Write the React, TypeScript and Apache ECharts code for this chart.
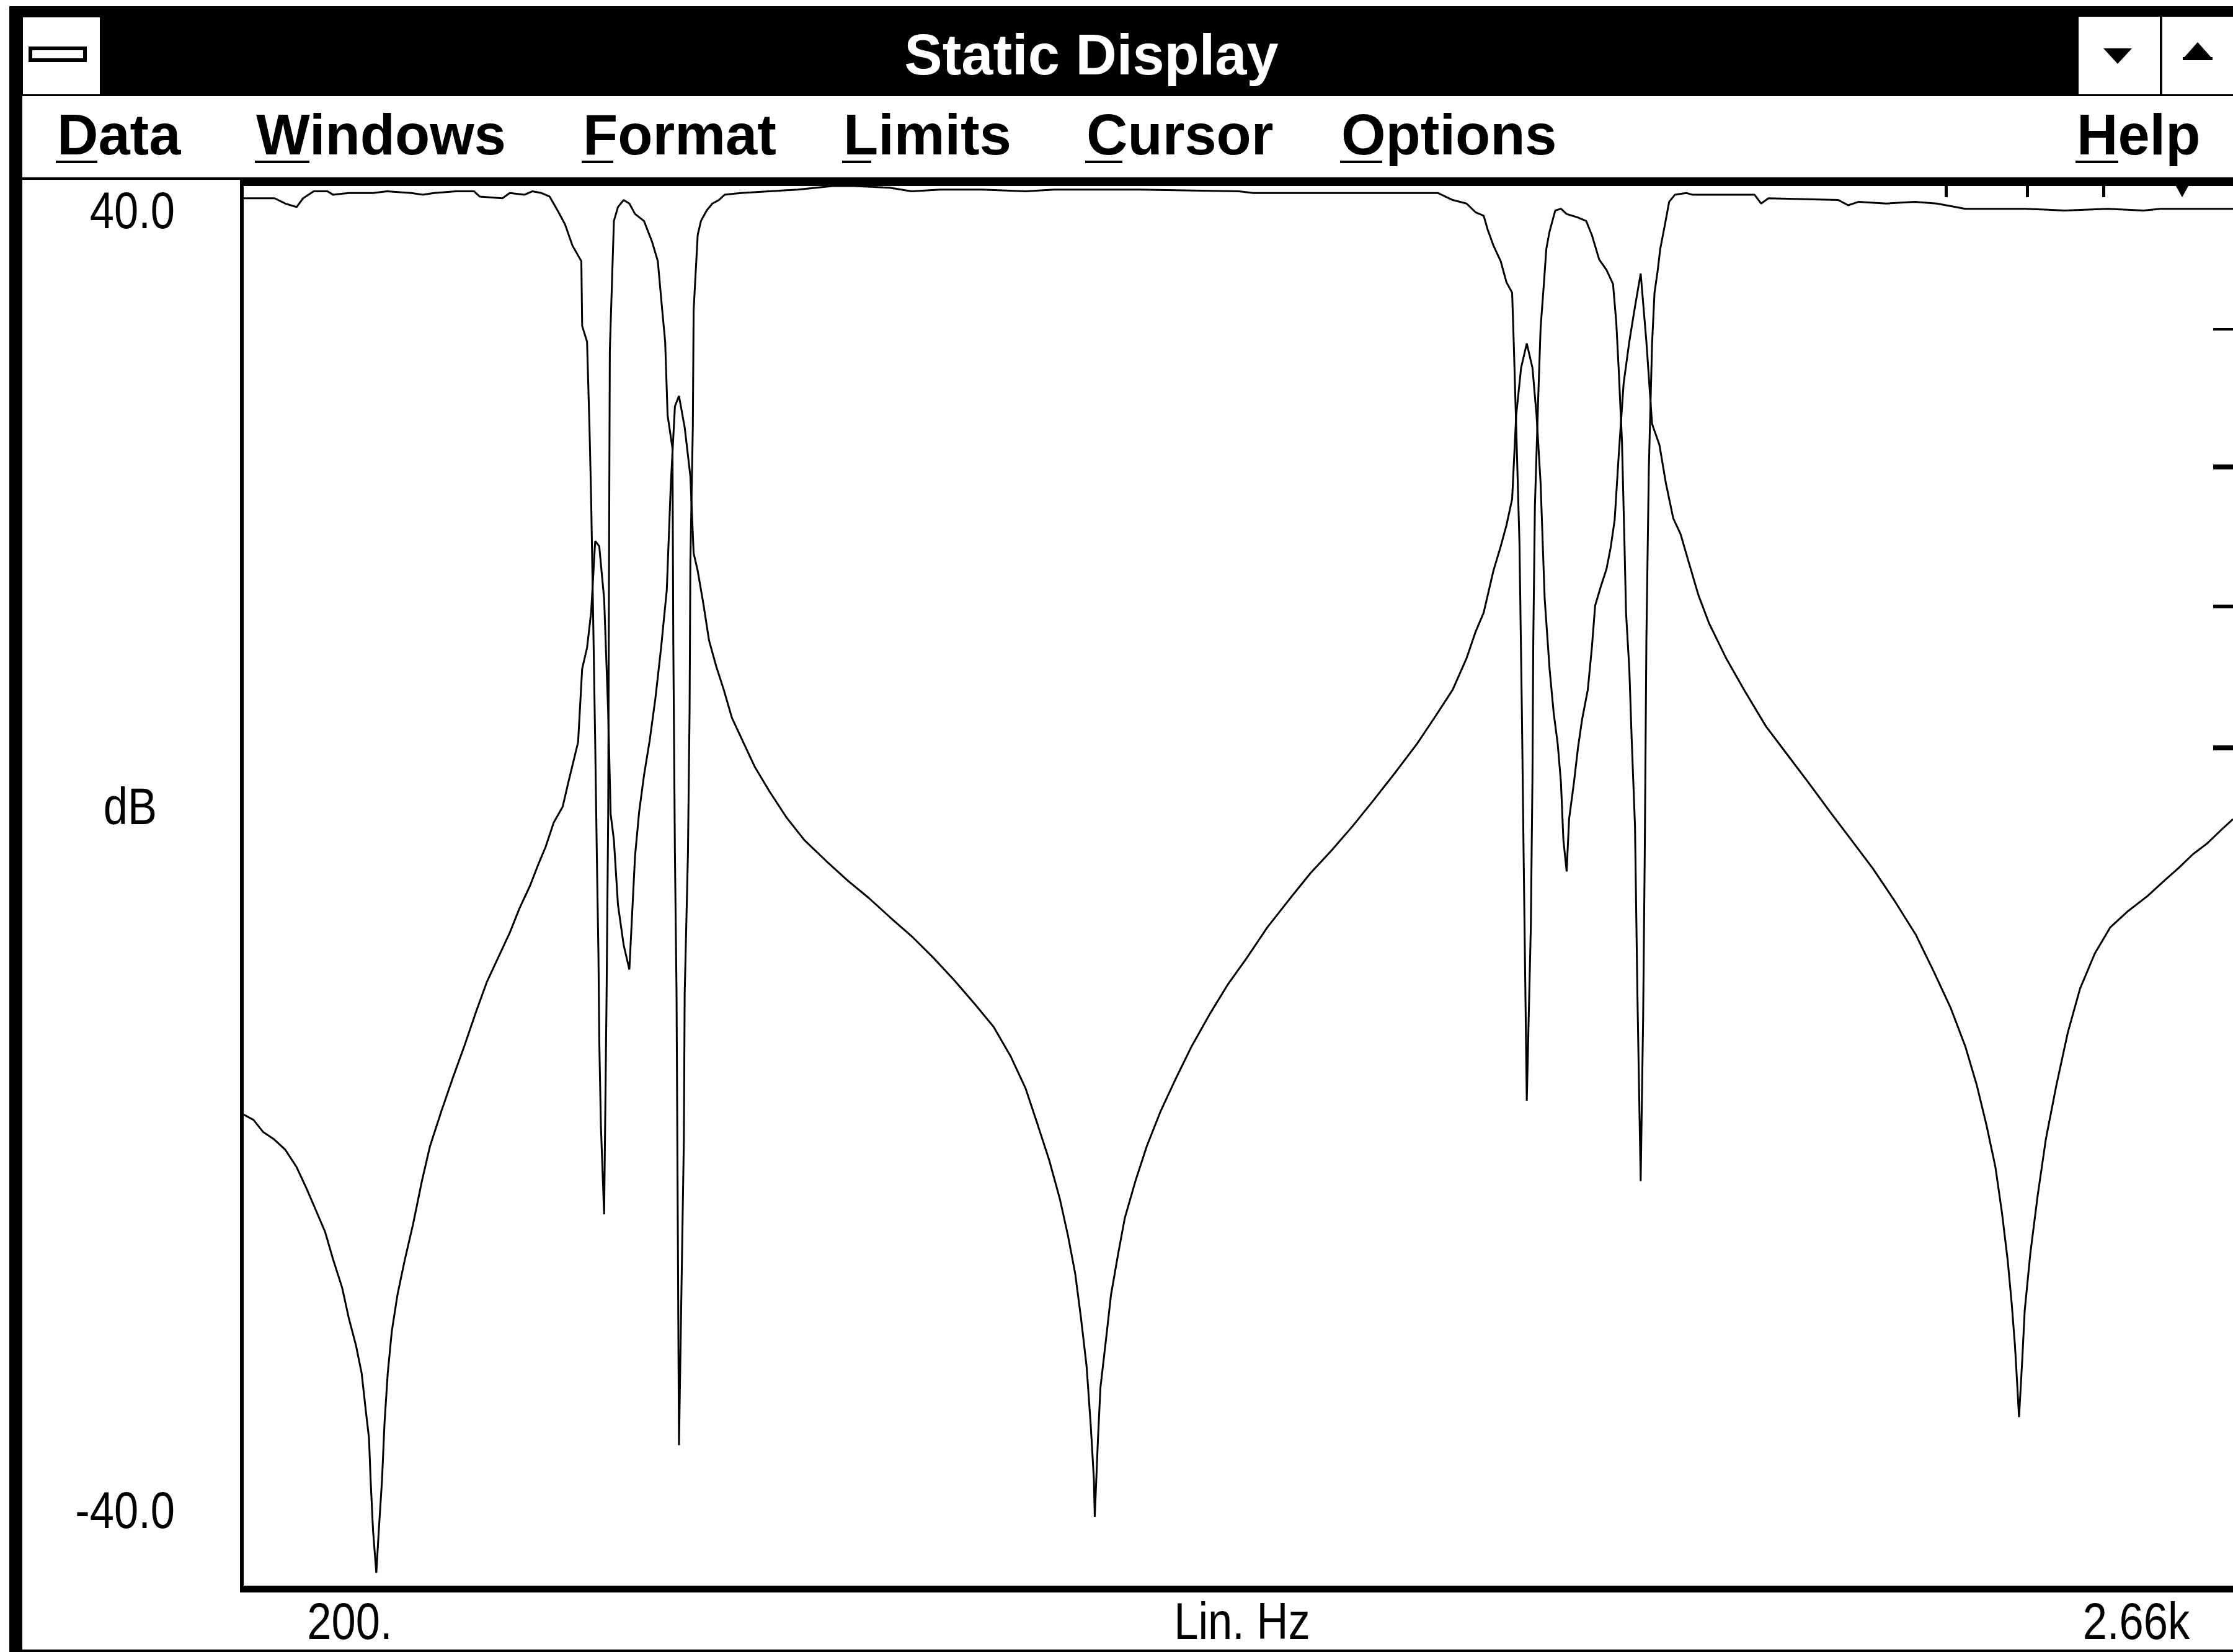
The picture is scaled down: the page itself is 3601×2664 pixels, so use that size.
import React, { useEffect, useRef } from "react";
import * as echarts from "echarts";

// Upper trace (near 40 dB with notches)
const upperFreq = [
  200, 216, 238, 251, 265, 273, 286, 303, 310, 329, 359, 376, 406, 420, 434, 461, 483, 490, 518, 527, 545, 555, 566, 576,
  587, 595, 604, 615, 616, 622, 625, 627, 630, 632, 634, 636, 637, 639, 643, 646, 648, 649, 650, 655, 660, 667, 674, 681,
  692, 702, 709, 714, 718, 721, 727, 728, 730, 732, 735, 741, 742, 746, 748, 749, 752, 753, 758, 762, 769, 776, 784, 791,
  811, 846, 881, 924, 951, 994, 1021, 1056, 1108, 1161, 1196, 1301, 1423, 1441, 1563, 1668, 1686, 1703, 1714, 1724, 1729,
  1736, 1745, 1752, 1759, 1761, 1764, 1768, 1771, 1773, 1777, 1782, 1784, 1785, 1787, 1791, 1794, 1798, 1801, 1805, 1812,
  1819, 1826, 1840, 1850, 1857, 1866, 1875, 1883, 1887, 1890, 1894, 1897, 1899, 1903, 1906, 1910, 1913, 1917, 1920, 1922,
  1924, 1927, 1931, 1934, 1938, 1941, 1946, 1952, 1959, 1973, 1981, 2018, 2057, 2065, 2074, 2160, 2172, 2185, 2219, 2254,
  2281, 2316, 2351, 2389, 2438, 2491, 2535, 2556, 2596, 2645,
];
const upperDb = [
  39.3, 39.3, 39.3, 39.0, 38.8, 39.3, 39.7, 39.7, 39.5, 39.6, 39.6, 39.7, 39.6, 39.5, 39.6, 39.7, 39.7, 39.4, 39.3, 39.6, 39.5, 39.7, 39.6, 39.4,
  38.5, 37.8, 36.6, 35.7, 32.0, 31.1, 26.2, 22.2, 14.0, 8.2, 1.8, -3.9, -8.8, -13.7, -18.8, -6.3, 4.1, 18.1, 30.6, 38.0, 38.8, 39.2, 39.0, 38.4,
  38.0, 36.8, 35.7, 33.1, 31.1, 26.9, 25.0, 14.0, 1.8, -6.2, -32.0, -14.5, -6.2, 1.8, 9.9, 18.5, 26.2, 32.9, 37.2, 38.0, 38.6, 39.0, 39.2, 39.5,
  39.6, 39.7, 39.8, 40.0, 40.0, 39.9, 39.7, 39.8, 39.8, 39.7, 39.8, 39.8, 39.7, 39.6, 39.6, 39.6, 39.2, 39.0, 38.5, 38.3, 37.5,
  36.6, 35.7, 34.5, 33.9, 31.0, 26.2, 19.6, 9.9, 2.2, -12.3, -2.3, 6.3, 14.0, 21.7, 27.8, 31.9, 34.4, 36.4, 37.4, 38.6,
  38.7, 38.4, 38.2, 38.0, 37.2, 35.8, 35.2, 34.4, 32.2, 29.5, 25.4, 19.7, 15.6, 12.4, 8.3, 3.4, -6.3, -16.9, -7.6, 1.8,
  14.0, 23.8, 31.0, 33.9, 35.2, 36.4, 37.6, 39.1, 39.5, 39.6, 39.5, 39.5, 39.5, 39.0, 39.3, 39.2, 38.9, 39.1, 39.0, 39.1,
  39.0, 38.7, 38.7, 38.7, 38.6, 38.7, 38.6, 38.7, 38.7, 38.7,
];

// Lower trace (V-shaped dips with resonance peaks)
const lowerFreq = [
  200, 212, 224, 237, 251, 265, 277, 289, 300, 310, 321, 329, 338, 345, 350, 354, 356, 359, 363, 366, 370, 373, 377, 382,
  389, 398, 408, 419, 429, 443, 457, 471, 485, 499, 513, 527, 539, 552, 562, 571, 581, 592, 599, 611, 616, 622, 627, 632,
  637, 643, 648, 651, 655, 660, 667, 674, 681, 686, 692, 699, 706, 713, 720, 725, 730, 735, 742, 749, 753, 758, 765, 772,
  781, 790, 800, 814, 828, 846, 867, 889, 916, 942, 968, 994, 1021, 1047, 1073, 1099, 1122, 1143, 1161, 1176, 1190, 1203,
  1213, 1222, 1229, 1236, 1241, 1245, 1246, 1250, 1253, 1259, 1266, 1275, 1283, 1296, 1310, 1327, 1345, 1365, 1388, 1409,
  1432, 1458, 1485, 1511, 1537, 1563, 1589, 1616, 1642, 1665, 1686, 1703, 1714, 1724, 1729, 1736, 1745, 1752, 1759, 1764,
  1770, 1777, 1784, 1789, 1794, 1799, 1805, 1810, 1815, 1819, 1822, 1826, 1829, 1835, 1840, 1845, 1852, 1857, 1861, 1868,
  1875, 1880, 1885, 1890, 1896, 1903, 1910, 1917, 1924, 1931, 1940, 1948, 1957, 1966, 1976, 1988, 2001, 2022, 2044, 2071,
  2097, 2123, 2150, 2176, 2202, 2228, 2255, 2277, 2298, 2316, 2330, 2342, 2353, 2361, 2368, 2373, 2377, 2380, 2382, 2386,
  2389, 2396, 2405, 2415, 2428, 2442, 2457, 2475, 2494, 2515, 2540, 2561, 2578, 2596, 2613, 2631, 2645,
];
const lowerDb = [
  -13.1, -13.4, -14.1, -14.5, -15.1, -16.1, -17.3, -18.6, -19.8, -21.4, -23.0, -24.7, -26.3, -27.9, -30.0, -31.6, -34.0, -36.9, -39.3, -36.9, -34.0, -30.8, -27.9, -25.5,
  -23.4, -21.4, -19.4, -16.9, -14.9, -12.9, -11.0, -9.2, -7.3, -5.5, -4.1, -2.7, -1.3, 0.0, 1.2, 2.2, 3.6, 4.5, 5.9, 8.2, 12.4, 13.6, 15.6, 19.7,
  19.4, 16.4, 9.9, 4.1, 2.6, -1.1, -3.4, -4.8, 1.7, 4.2, 6.3, 8.3, 10.7, 13.6, 16.9, 23.0, 27.4, 28.0, 26.2, 23.4, 19.0, 18.0, 16.1, 14.0,
  12.5, 11.2, 9.6, 8.2, 6.8, 5.4, 3.9, 2.6, 1.4, 0.3, -0.7, -1.8, -2.9, -4.1, -5.4, -6.8, -8.1, -9.8, -11.6, -13.7, -15.7, -17.9,
  -20.0, -22.2, -24.7, -27.5, -30.8, -34.0, -36.1, -31.6, -28.7, -26.3, -23.4, -21.0, -19.0, -16.9, -14.9, -12.9, -11.1, -9.2, -7.3, -5.7,
  -4.2, -2.4, -0.8, 0.7, 2.0, 3.4, 4.9, 6.5, 8.1, 9.7, 11.2, 13.0, 14.5, 15.6, 16.6, 18.0, 19.4, 20.6, 22.1, 26.9,
  29.6, 31.0, 29.6, 26.9, 23.0, 16.4, 12.4, 9.9, 8.1, 5.9, 2.6, 0.8, 3.8, 5.9, 7.9, 9.5, 11.2, 13.6, 16.0, 17.1,
  18.1, 19.3, 20.9, 24.6, 28.7, 31.1, 33.1, 35.0, 31.1, 26.4, 25.2, 23.0, 21.0, 20.1, 18.5, 16.6, 15.0, 13.0, 11.2, 9.1,
  7.5, 5.9, 4.2, 2.6, 1.0, -0.8, -2.8, -4.9, -7.0, -9.2, -11.4, -13.7, -16.1, -18.7, -21.4, -23.9, -26.3, -28.7, -30.4, -27.1,
  -24.3, -21.0, -17.7, -14.5, -11.4, -8.4, -5.9, -3.9, -2.4, -1.5, -0.6, 0.3, 1.0, 1.8, 2.4, 3.2, 3.8,
];

// visible frequency span (the plot continues past the window's right edge)
const freqRange = [200, 2645];
const dbRange = [-40, 40];
const windowTitle = "Static Display";
const menuItems = ["Data", "Windows", "Format", "Limits", "Cursor", "Options", "Help"];
const yTickLabels = ["40.0", "dB", "-40.0"];
const xTickLabels = ["200.", "Lin. Hz", "2.66k"];

export default function App() {
  const ref = useRef<HTMLDivElement>(null);

  useEffect(() => {
    document.body.style.margin = "0";
    document.body.style.overflow = "hidden";
    const chart = echarts.init(ref.current as HTMLDivElement, null, { renderer: "svg" });

    const menuFont = 'bold 92px "Liberation Sans", Arial, sans-serif';
    const labelFont = '84px "Liberation Sans", Arial, sans-serif';
    const menuX = [92, 413, 940, 1360, 1752, 2163, 3349];
    const underlineW = [67, 88, 51, 47, 60, 68, 69];
    const black = "#000";

    const rect = (x: number, y: number, w: number, h: number, fill = black) => ({
      type: "rect",
      shape: { x, y, width: w, height: h },
      style: { fill },
      silent: true,
    });

    const narrowText = (text: string, x: number, y: number, align: string) => ({
      type: "text",
      x,
      y,
      scaleX: 0.84,
      style: {
        text,
        x: 0,
        y: 0,
        fill: black,
        font: labelFont,
        textAlign: align,
        textVerticalAlign: "middle",
      },
      silent: true,
    });

    const graphics: any[] = [
      // window left border & bottom line
      rect(15, 10, 21, 2654),
      rect(15, 2660, 3586, 4),
      // title bar
      rect(15, 10, 3586, 145),
      rect(37, 28, 124, 124, "#fff"),
      {
        type: "rect",
        shape: { x: 49, y: 78, width: 88, height: 19 },
        style: { fill: "#fff", stroke: black, lineWidth: 6 },
        silent: true,
      },
      rect(3352, 27, 131, 125, "#fff"),
      rect(3487, 27, 114, 125, "#fff"),
      {
        type: "polygon",
        shape: { points: [[3392, 78], [3438, 78], [3415, 103]] },
        style: { fill: black },
        silent: true,
      },
      {
        type: "polygon",
        shape: { points: [[3544, 68], [3521, 94], [3567, 94]] },
        style: { fill: black },
        silent: true,
      },
      rect(3520, 92, 48, 5),
      {
        type: "text",
        style: {
          text: windowTitle,
          x: 1760,
          y: 88,
          fill: "#fff",
          font: 'bold 92px "Liberation Sans", Arial, sans-serif',
          textAlign: "center",
          textVerticalAlign: "middle",
        },
        silent: true,
      },
      // menu bottom line
      rect(36, 286, 3565, 4),
      // plot frame
      rect(387, 290, 3214, 10),
      rect(387, 290, 6, 2278),
      rect(387, 2557, 3214, 11),
      // small cursor ticks under the top frame
      rect(3136, 300, 5, 18),
      rect(3267, 300, 5, 18),
      rect(3390, 300, 5, 18),
      {
        type: "polygon",
        shape: { points: [[3509, 300], [3529, 300], [3519, 318]] },
        style: { fill: black },
        silent: true,
      },
      // right-edge ticks
      rect(3569, 529, 32, 4),
      rect(3569, 749, 32, 8),
      rect(3569, 975, 32, 6),
      rect(3569, 1202, 32, 8),
    ];

    menuItems.forEach((m, i) => {
      graphics.push({
        type: "text",
        style: {
          text: m,
          x: menuX[i],
          y: 217,
          fill: black,
          font: menuFont,
          textAlign: "left",
          textVerticalAlign: "middle",
        },
        silent: true,
      });
      graphics.push(rect(menuX[i] - 2, 259, underlineW[i], 4));
    });

    const yPos = [
      { x: 282, y: 339, align: "right" },
      { x: 210, y: 1300, align: "center" },
      { x: 282, y: 2435, align: "right" },
    ];
    yTickLabels.forEach((t, i) => {
      graphics.push(narrowText(t, yPos[i].x, yPos[i].y, yPos[i].align));
    });
    const xPos = [564, 2003, 3445];
    xTickLabels.forEach((t, i) => {
      graphics.push(narrowText(t, xPos[i], 2614, "center"));
    });

    const lineSeries = (name: string, f: number[], d: number[]) => ({
      name,
      type: "line",
      data: f.map((v, i) => [v, d[i]]),
      showSymbol: false,
      symbol: "none",
      smooth: false,
      lineStyle: { color: black, width: 3 },
      clip: true,
      silent: true,
    });

    chart.setOption({
      animation: false,
      backgroundColor: "#fff",
      grid: { left: 393, right: 0, top: 300, bottom: 108 },
      xAxis: {
        type: "value",
        min: freqRange[0],
        max: freqRange[1],
        show: false,
        splitLine: { show: false },
      },
      yAxis: {
        type: "value",
        min: dbRange[0],
        max: dbRange[1],
        show: false,
        splitLine: { show: false },
      },
      series: [lineSeries("Upper", upperFreq, upperDb), lineSeries("Lower", lowerFreq, lowerDb)],
      graphic: graphics,
    });

    return () => chart.dispose();
  }, []);

  return <div ref={ref} style={{ width: 3601, height: 2664 }} />;
}
